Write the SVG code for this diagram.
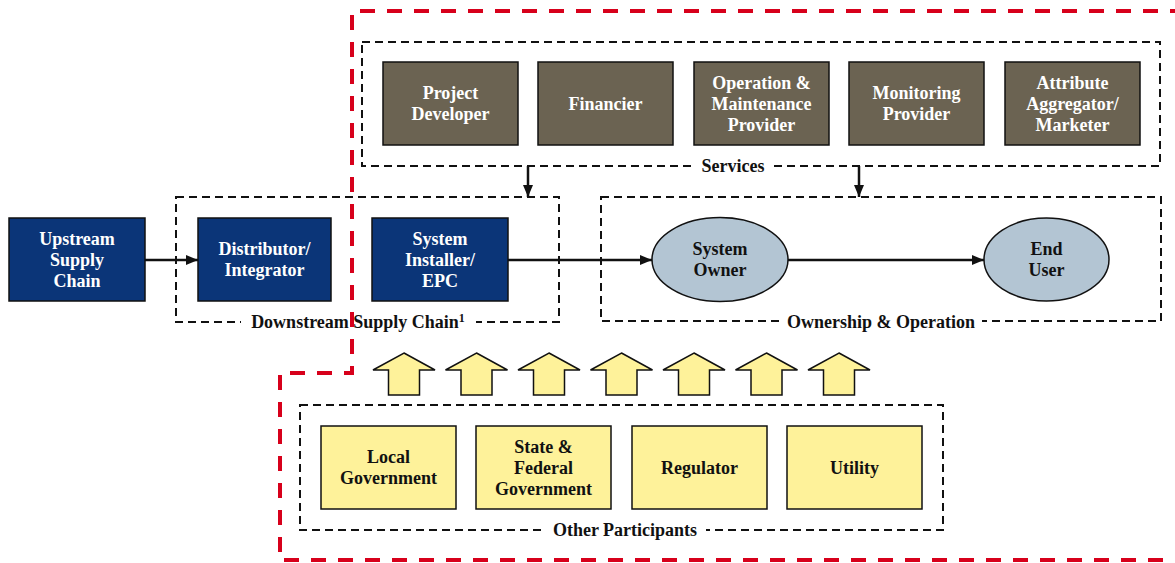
<svg xmlns="http://www.w3.org/2000/svg" xmlns:xlink="http://www.w3.org/1999/xlink" width="1175" height="563" viewBox="0 0 1175 563">
<style>
.blue{fill:#0b3578;stroke:#111;stroke-width:1.5}
.brown{fill:#6b6352;stroke:#111;stroke-width:1.5}
.yel{fill:#fef29a;stroke:#111;stroke-width:1.5}
.ell{fill:#b3c5d3;stroke:#111;stroke-width:1.5}
.dash{fill:none;stroke:#111;stroke-width:2;stroke-dasharray:8 5}
.red{fill:none;stroke:#d7001b;stroke-width:4;stroke-dasharray:15 12}
.conn{fill:none;stroke:#111;stroke-width:2.5}
.bg{fill:#fff}
text{font-family:"Liberation Serif","Times New Roman",serif;font-weight:bold;font-size:18px;text-anchor:middle}
.w{fill:#fff}
.k{fill:#111}
</style>
<defs>
<marker id="ah" markerUnits="userSpaceOnUse" markerWidth="12" markerHeight="10" refX="12" refY="5" orient="auto">
<path d="M0,0 L12,5 L0,10 Z" fill="#111"/>
</marker>
<path id="up" d="M0,0 L31,17 L15.5,17 L15.5,42 L-15.5,42 L-15.5,17 L-31,17 Z" fill="#fef29a" stroke="#111" stroke-width="1.5" stroke-linejoin="miter"/>
</defs>
<rect width="1175" height="563" fill="#fff"/>

<g id="groups">
<rect class="dash" x="362" y="42" width="798" height="124"/>
<rect class="dash" x="176" y="197" width="383" height="125"/>
<rect class="dash" x="601" y="197" width="560" height="124"/>
<rect class="dash" x="300" y="405" width="643" height="125"/>
<rect class="bg" x="695" y="160" width="76" height="12"/>
<text class="k" x="733" y="172">Services</text>
<rect class="bg" x="241" y="316" width="235" height="12"/>
<text class="k" x="358" y="328">Downstream Supply Chain<tspan font-size="12" dy="-6">1</tspan></text>
<rect class="bg" x="780" y="315" width="202" height="12"/>
<text class="k" x="881" y="328">Ownership &amp; Operation</text>
<rect class="bg" x="544" y="524" width="162" height="12"/>
<text class="k" x="625" y="536">Other Participants</text>
</g>

<g id="n-project-developer"><rect class="brown" x="383" y="62" width="135" height="83"/><text class="w" x="450.5" y="99">Project</text><text class="w" x="450.5" y="120">Developer</text></g>
<g id="n-financier"><rect class="brown" x="538" y="62" width="135" height="83"/><text class="w" x="605.5" y="110">Financier</text></g>
<g id="n-om-provider"><rect class="brown" x="694" y="62" width="135" height="83"/><text class="w" x="761.5" y="89">Operation &amp;</text><text class="w" x="761.5" y="110">Maintenance</text><text class="w" x="761.5" y="131">Provider</text></g>
<g id="n-monitoring"><rect class="brown" x="849" y="62" width="135" height="83"/><text class="w" x="916.5" y="99">Monitoring</text><text class="w" x="916.5" y="120">Provider</text></g>
<g id="n-attribute"><rect class="brown" x="1005" y="62" width="135" height="83"/><text class="w" x="1072.5" y="89">Attribute</text><text class="w" x="1072.5" y="110">Aggregator/</text><text class="w" x="1072.5" y="131">Marketer</text></g>

<g id="n-upstream"><rect class="blue" x="9" y="218" width="136" height="83"/><text class="w" x="77" y="245">Upstream</text><text class="w" x="77" y="266">Supply</text><text class="w" x="77" y="287">Chain</text></g>
<g id="n-distributor"><rect class="blue" x="198" y="218" width="133" height="83"/><text class="w" x="264.5" y="255">Distributor/</text><text class="w" x="264.5" y="276">Integrator</text></g>
<g id="n-installer"><rect class="blue" x="372" y="218" width="136" height="83"/><text class="w" x="440" y="245">System</text><text class="w" x="440" y="266">Installer/</text><text class="w" x="440" y="287">EPC</text></g>

<g id="n-system-owner"><ellipse class="ell" cx="720" cy="259.5" rx="68" ry="42"/><text class="k" x="720" y="255">System</text><text class="k" x="720" y="276">Owner</text></g>
<g id="n-end-user"><ellipse class="ell" cx="1046.5" cy="259.5" rx="62.5" ry="41.5"/><text class="k" x="1046.5" y="255">End</text><text class="k" x="1046.5" y="276">User</text></g>

<g id="n-local-gov"><rect class="yel" x="321" y="426" width="135" height="83"/><text class="k" x="388.5" y="463">Local</text><text class="k" x="388.5" y="484">Government</text></g>
<g id="n-state-gov"><rect class="yel" x="476" y="426" width="135" height="83"/><text class="k" x="543.5" y="453">State &amp;</text><text class="k" x="543.5" y="474">Federal</text><text class="k" x="543.5" y="495">Government</text></g>
<g id="n-regulator"><rect class="yel" x="632" y="426" width="135" height="83"/><text class="k" x="699.5" y="474">Regulator</text></g>
<g id="n-utility"><rect class="yel" x="787" y="426" width="135" height="83"/><text class="k" x="854.5" y="474">Utility</text></g>

<g id="connectors">
<line class="conn" x1="145" y1="260" x2="198" y2="260" marker-end="url(#ah)"/>
<line class="conn" x1="508" y1="260" x2="652" y2="260" marker-end="url(#ah)"/>
<line class="conn" x1="788" y1="260" x2="984" y2="260" marker-end="url(#ah)"/>
<line class="conn" x1="528" y1="166" x2="528" y2="197" marker-end="url(#ah)"/>
<line class="conn" x1="859" y1="166" x2="859" y2="197" marker-end="url(#ah)"/>
<use xlink:href="#up" x="404" y="353"/>
<use xlink:href="#up" x="476.5" y="353"/>
<use xlink:href="#up" x="549" y="353"/>
<use xlink:href="#up" x="621.5" y="353"/>
<use xlink:href="#up" x="694" y="353"/>
<use xlink:href="#up" x="766.5" y="353"/>
<use xlink:href="#up" x="839" y="353"/>
</g>

<g id="boundary">
<path class="red" d="M1185,11 L352,11 L352,373 L280,373 L280,560 L1185,560"/>
</g>
</svg>
